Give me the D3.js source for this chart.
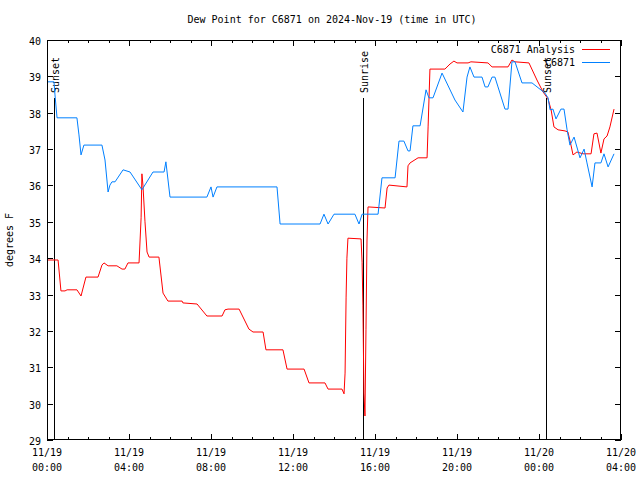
<!DOCTYPE html>
<html><head><meta charset="utf-8">
<script src="https://cdn.jsdelivr.net/npm/d3@7"></script>
<style>body{margin:0;background:#fff}svg{display:block}text{font-family:"DejaVu Sans Mono",monospace;font-size:10px;fill:#000}</style>
</head><body><svg id="c" width="640" height="480"></svg>
<script>
const title = "Dew Point for C6871 on 2024-Nov-19 (time in UTC)";
const yLabel = "degrees F";
const seriesNames = ["C6871 Analysis", "C6871"];
const seriesColors = ["#ff0000", "#0080ff"];
// hours since 2024-11-19 00:00 UTC
const analysisHours = [0,0.54,0.68,0.88,0.98,1.46,1.66,1.76,1.90,2.49,2.68,2.78,2.98,3.41,3.66,3.80,3.95,4.49,4.59,4.63,4.68,4.78,4.88,4.98,5.46,5.66,5.90,6.59,6.63,7.32,7.80,8.54,8.68,8.83,9.37,9.85,10.05,10.54,10.68,11.51,11.71,12.54,12.78,13.56,13.71,14.39,14.49,14.54,14.59,14.63,14.68,15.32,15.37,15.41,15.46,15.51,15.56,15.61,15.66,16.49,16.59,16.68,17.56,17.61,17.71,18.10,18.54,18.59,18.68,19.41,19.66,19.85,20.00,20.54,20.68,21.51,21.71,22.49,22.68,22.83,23.51,23.90,24.20,24.44,24.59,24.73,24.93,25.27,25.41,25.56,25.66,25.85,26.15,26.54,26.68,26.83,27.02,27.17,27.32,27.46,27.66];
const analysisValues = [33.95,33.95,33.10,33.10,33.13,33.13,32.96,33.18,33.48,33.48,33.81,33.87,33.79,33.79,33.70,33.70,33.87,33.87,35.11,36.32,36.01,35.00,34.17,34.03,34.03,33.04,32.82,32.82,32.77,32.74,32.41,32.41,32.58,32.60,32.60,32.05,31.97,31.97,31.48,31.48,30.95,30.95,30.57,30.57,30.40,30.40,30.27,30.84,32.93,34.00,34.55,34.53,33.89,32.71,30.29,29.66,32.03,34.50,35.41,35.38,35.93,36.01,35.96,36.54,36.62,36.76,36.76,37.61,39.20,39.20,39.34,39.42,39.37,39.37,39.40,39.37,39.26,39.26,39.45,39.40,39.37,38.90,38.57,38.38,38.08,37.61,37.53,37.50,37.47,37.11,36.84,36.92,36.87,36.87,37.42,37.44,36.89,37.28,37.36,37.61,38.10];
const obsHours = [0,0.34,0.39,0.49,1.46,1.56,1.66,1.80,2.68,2.83,2.98,3.07,3.17,3.32,3.71,4.05,4.63,5.17,5.71,5.80,6.00,7.80,8.00,8.10,8.29,11.22,11.37,13.32,13.51,13.71,14.00,15.02,15.22,15.37,16.15,16.34,16.98,17.17,17.41,17.61,17.71,17.85,18.20,18.49,18.63,18.83,19.27,19.90,20.29,20.49,20.63,20.83,21.22,21.37,21.51,21.71,21.85,22.00,22.34,22.49,22.68,22.83,23.17,23.66,24.29,24.44,24.54,24.68,24.83,25.07,25.22,25.37,25.51,25.71,26.00,26.20,26.34,26.59,26.73,27.02,27.17,27.37,27.66];
const obsValues = [38.85,38.85,38.49,37.86,37.86,37.39,36.84,37.11,37.11,36.70,35.82,36.01,36.10,36.10,36.43,36.37,35.88,36.37,36.37,36.65,35.68,35.68,35.96,35.68,35.96,35.96,34.94,34.94,35.21,34.94,35.21,35.21,34.94,35.21,35.21,36.21,36.21,37.22,37.22,36.95,36.95,37.64,37.64,38.63,38.41,38.41,39.09,38.35,38.02,38.98,39.26,38.98,38.98,38.71,38.71,38.98,38.98,38.71,38.10,38.10,39.40,39.40,38.82,38.82,38.54,38.41,38.08,38.10,37.83,38.10,38.10,37.53,37.11,37.33,36.76,37.00,36.62,35.96,36.62,36.62,36.87,36.51,36.87];
const sunEvents = [{label:"Sunset",h:0.34},{label:"Sunrise",h:15.41},{label:"Sunset",h:24.34}];
const yTicks = [29,30,31,32,33,34,35,36,37,38,39,40];

const t0 = Date.UTC(2024,10,19,0,0);
const toDate = h => new Date(t0 + h*3600000);
const svg = d3.select("#c");
const L=47, R=621, T=40, B=440;
const x = d3.scaleUtc().domain([toDate(0), toDate(28)]).range([L, R]);
const y = d3.scaleLinear().domain([29,40]).range([B, T]);

svg.append("text").attr("x",332).attr("y",23).attr("text-anchor","middle").text(title);

// ticks
const g = svg.append("g").attr("stroke","#000").attr("stroke-width",1).attr("shape-rendering","crispEdges");
const hours = d3.utcHour.every(1).range(toDate(0), toDate(28.01));
hours.forEach(d=>{
  const major = d.getUTCHours()%4===0;
  const len = major?6:3;
  const xx = Math.round(x(d))+0.5;
  g.append("line").attr("x1",xx).attr("x2",xx).attr("y1",B).attr("y2",B-len);
  g.append("line").attr("x1",xx).attr("x2",xx).attr("y1",T).attr("y2",T+len);
});
yTicks.forEach(v=>{
  const yy = Math.round(y(v))+0.5;
  g.append("line").attr("x1",L).attr("x2",L+6).attr("y1",yy).attr("y2",yy);
  g.append("line").attr("x1",R).attr("x2",R-6).attr("y1",yy).attr("y2",yy);
  svg.append("text").attr("x",41).attr("y",yy+4).attr("text-anchor","end").text(v);
});
const fmtD = d3.utcFormat("%m/%d"), fmtT = d3.utcFormat("%H:%M");
x.ticks(d3.utcHour.every(4)).forEach(d=>{
  const t = svg.append("text").attr("text-anchor","middle");
  t.append("tspan").attr("x",x(d)).attr("y",456).text(fmtD(d));
  t.append("tspan").attr("x",x(d)).attr("y",471).text(fmtT(d));
});
svg.append("text").attr("transform","translate(13,240) rotate(-90)").attr("text-anchor","middle").text(yLabel);

// sun events
sunEvents.forEach(e=>{
  const xx = Math.round(x(toDate(e.h)))+0.5;
  g.append("line").attr("x1",xx).attr("x2",xx).attr("y1",98).attr("y2",B);
  svg.append("text").attr("transform",`translate(${xx+4},93) rotate(-90)`).attr("text-anchor","start").text(e.label);
});

// series
const line = d3.line().x(d=>x(toDate(d[0]))).y(d=>y(d[1]));
const series = [
  d3.zip(analysisHours, analysisValues),
  d3.zip(obsHours, obsValues)
];
series.forEach((s,i)=>{
  svg.append("path").datum(s).attr("d",line).attr("fill","none").attr("stroke",seriesColors[i]).attr("stroke-width",1);
});

// frame
svg.append("rect").attr("x",L+0.5).attr("y",T+0.5).attr("width",R-L-1).attr("height",B-T-1).attr("fill","none").attr("stroke","#000").attr("shape-rendering","crispEdges");

// legend
seriesNames.forEach((n,i)=>{
  const yy = 49 + i*13;
  svg.append("text").attr("x",575).attr("y",yy+4).attr("text-anchor","end").text(n);
  svg.append("line").attr("x1",582).attr("x2",610).attr("y1",yy+0.5).attr("y2",yy+0.5).attr("stroke",seriesColors[i]).attr("shape-rendering","crispEdges");
});
</script></body></html>
